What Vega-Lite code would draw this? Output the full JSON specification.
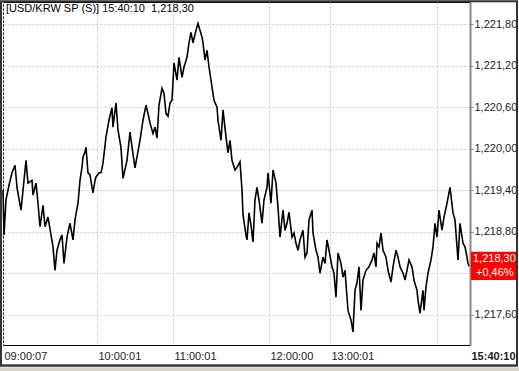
{
  "$schema": "https://vega.github.io/schema/vega-lite/v6.json",
  "width": 467,
  "height": 343,
  "autosize": {"type": "none"},
  "padding": {"left": 3, "top": 2, "right": 49, "bottom": 26},
  "background": "#ffffff",
  "title": {"text": "[USD/KRW SP (S)] 15:40:10\u00a0 1,218,30", "anchor": "start", "frame": "group", "offset": -14, "fontSize": 11, "fontWeight": "normal", "font": "Liberation Sans", "color": "#000000", "dx": 3},
  "config": {
    "view": {"stroke": "#000000", "strokeWidth": 1},
    "axis": {"labelFont": "Liberation Sans", "labelFontSize": 11, "labelColor": "#222222"}
  },
  "datasets": {
    "price": [
      {"i":3,"p":1219.40},{"i":4,"p":1218.75},{"i":6,"p":1219.26},{"i":9,"p":1219.47},{"i":12,"p":1219.65},{"i":15,"p":1219.76},{"i":17,"p":1219.44},{"i":21,"p":1219.11},{"i":26,"p":1219.83},{"i":28,"p":1219.50},{"i":32,"p":1219.54},{"i":33,"p":1219.33},{"i":36,"p":1219.50},{"i":38,"p":1219.21},{"i":40,"p":1218.87},{"i":43,"p":1219.18},{"i":45,"p":1218.87},{"i":48,"p":1219.01},{"i":53,"p":1218.58},{"i":55,"p":1218.24},{"i":57,"p":1218.53},{"i":60,"p":1218.68},{"i":62,"p":1218.75},{"i":64,"p":1218.34},{"i":67,"p":1218.72},{"i":70,"p":1218.92},{"i":73,"p":1218.68},{"i":75,"p":1218.97},{"i":78,"p":1219.21},{"i":80,"p":1219.54},{"i":82,"p":1219.73},{"i":83,"p":1219.88},{"i":85,"p":1219.95},{"i":86,"p":1220.02},{"i":87,"p":1219.83},{"i":88,"p":1219.65},{"i":90,"p":1219.62},{"i":92,"p":1219.44},{"i":93,"p":1219.36},{"i":95,"p":1219.54},{"i":96,"p":1219.59},{"i":99,"p":1219.65},{"i":101,"p":1219.65},{"i":103,"p":1219.79},{"i":106,"p":1220.17},{"i":109,"p":1220.41},{"i":112,"p":1220.59},{"i":113,"p":1220.31},{"i":116,"p":1220.66},{"i":118,"p":1220.27},{"i":121,"p":1220.01},{"i":123,"p":1219.57},{"i":127,"p":1219.83},{"i":130,"p":1220.24},{"i":132,"p":1220.02},{"i":135,"p":1219.72},{"i":140,"p":1220.12},{"i":143,"p":1220.41},{"i":146,"p":1220.63},{"i":149,"p":1220.44},{"i":150,"p":1220.37},{"i":153,"p":1220.22},{"i":155,"p":1220.31},{"i":157,"p":1220.15},{"i":159,"p":1220.63},{"i":162,"p":1220.87},{"i":164,"p":1220.80},{"i":166,"p":1220.51},{"i":168,"p":1220.47},{"i":170,"p":1220.66},{"i":172,"p":1220.70},{"i":174,"p":1221.24},{"i":177,"p":1220.99},{"i":179,"p":1221.32},{"i":182,"p":1221.03},{"i":184,"p":1221.18},{"i":187,"p":1221.32},{"i":189,"p":1221.53},{"i":191,"p":1221.68},{"i":193,"p":1221.53},{"i":196,"p":1221.71},{"i":198,"p":1221.81},{"i":200,"p":1221.71},{"i":202,"p":1221.61},{"i":203,"p":1221.53},{"i":205,"p":1221.28},{"i":207,"p":1221.42},{"i":209,"p":1221.18},{"i":212,"p":1220.89},{"i":214,"p":1220.70},{"i":217,"p":1220.60},{"i":218,"p":1220.41},{"i":221,"p":1220.12},{"i":223,"p":1220.56},{"i":226,"p":1220.17},{"i":228,"p":1219.94},{"i":230,"p":1220.12},{"i":232,"p":1219.83},{"i":235,"p":1219.69},{"i":237,"p":1219.73},{"i":240,"p":1219.81},{"i":242,"p":1219.40},{"i":243,"p":1219.04},{"i":246,"p":1218.75},{"i":247,"p":1218.68},{"i":249,"p":1219.07},{"i":251,"p":1218.89},{"i":253,"p":1218.65},{"i":255,"p":1219.26},{"i":257,"p":1219.44},{"i":259,"p":1219.26},{"i":262,"p":1218.92},{"i":264,"p":1219.26},{"i":267,"p":1219.44},{"i":268,"p":1219.65},{"i":271,"p":1219.21},{"i":273,"p":1219.69},{"i":276,"p":1219.50},{"i":278,"p":1219.15},{"i":280,"p":1218.72},{"i":283,"p":1219.11},{"i":285,"p":1218.82},{"i":287,"p":1218.92},{"i":289,"p":1219.08},{"i":292,"p":1218.72},{"i":294,"p":1218.78},{"i":296,"p":1218.63},{"i":298,"p":1218.53},{"i":300,"p":1218.68},{"i":303,"p":1218.82},{"i":305,"p":1218.43},{"i":307,"p":1218.49},{"i":309,"p":1218.97},{"i":312,"p":1219.11},{"i":313,"p":1218.78},{"i":316,"p":1218.53},{"i":318,"p":1218.43},{"i":320,"p":1218.20},{"i":323,"p":1218.43},{"i":325,"p":1218.34},{"i":327,"p":1218.68},{"i":329,"p":1218.53},{"i":332,"p":1218.29},{"i":334,"p":1218.20},{"i":336,"p":1217.85},{"i":338,"p":1218.49},{"i":341,"p":1218.34},{"i":343,"p":1218.14},{"i":345,"p":1218.24},{"i":347,"p":1217.85},{"i":348,"p":1217.66},{"i":351,"p":1217.52},{"i":353,"p":1217.35},{"i":355,"p":1217.95},{"i":357,"p":1218.06},{"i":359,"p":1218.29},{"i":361,"p":1217.66},{"i":363,"p":1218.10},{"i":366,"p":1218.24},{"i":369,"p":1218.29},{"i":372,"p":1218.39},{"i":374,"p":1218.49},{"i":376,"p":1218.29},{"i":377,"p":1218.63},{"i":379,"p":1218.58},{"i":381,"p":1218.78},{"i":383,"p":1218.53},{"i":386,"p":1218.43},{"i":388,"p":1218.24},{"i":391,"p":1218.07},{"i":393,"p":1218.29},{"i":396,"p":1218.53},{"i":398,"p":1218.43},{"i":400,"p":1218.29},{"i":403,"p":1218.20},{"i":405,"p":1218.10},{"i":407,"p":1218.24},{"i":409,"p":1218.39},{"i":412,"p":1218.29},{"i":414,"p":1218.10},{"i":417,"p":1217.95},{"i":418,"p":1217.81},{"i":420,"p":1217.62},{"i":423,"p":1217.95},{"i":424,"p":1217.66},{"i":426,"p":1218.00},{"i":428,"p":1218.20},{"i":431,"p":1218.39},{"i":433,"p":1218.58},{"i":435,"p":1218.92},{"i":437,"p":1218.72},{"i":439,"p":1219.11},{"i":442,"p":1218.82},{"i":444,"p":1219.01},{"i":447,"p":1219.21},{"i":450,"p":1219.44},{"i":453,"p":1219.07},{"i":455,"p":1218.97},{"i":457,"p":1218.58},{"i":458,"p":1218.39},{"i":460,"p":1218.92},{"i":463,"p":1218.63},{"i":465,"p":1218.58},{"i":467,"p":1218.43},{"i":468,"p":1218.34},{"i":469,"p":1218.30}
    ],
    "last": [{"row": 1, "label": "1,218,30"}, {"row": 2, "label": "+0,46%"}]
  },
  "layer": [
    {
      "data": {"name": "price"},
      "mark": {"type": "line", "color": "#000000", "strokeWidth": 1.6, "interpolate": "linear"},
      "encoding": {
        "x": {
          "field": "i", "type": "quantitative",
          "scale": {"domain": [3, 470], "nice": false, "zero": false},
          "axis": {
            "title": null,
            "values": [3, 97, 173, 269, 330, 437, 470],
            "labelExpr": "datum.value==3?'09:00:07':datum.value==97?'10:00:01':datum.value==173?'11:00:01':datum.value==269?'12:00:00':datum.value==330?'13:00:01':datum.value==470?'15:40:10':''",
            "labelAlign": "left",
            "labelFlush": false,
            "labelOverlap": false,
            "labelOffset": 1,
            "labelPadding": 5,
            "labelFontWeight": {"condition": {"test": "datum.value==470", "value": "bold"}, "value": "normal"},
            "tickSize": 0,
            "domain": false,
            "grid": true,
            "gridDash": [2, 2],
            "gridColor": "#c8c8c8"
          }
        },
        "y": {
          "field": "p", "type": "quantitative",
          "scale": {"domain": [1217.16, 1222.12], "nice": false, "zero": false},
          "axis": {
            "title": null,
            "orient": "right",
            "values": [1217.6, 1218.2, 1218.8, 1219.4, 1220.0, 1220.6, 1221.2, 1221.8],
            "labelExpr": "abs(datum.value - 1218.2) < 0.01 ? '' : replace(format(datum.value, ',.2f'), '.', ',')",
            "labelPadding": 1,
            "labelFlush": false,
            "labelOverlap": false,
            "grid": true,
            "gridDash": [2, 2],
            "gridColor": "#c8c8c8",
            "domainColor": "#888888",
            "domainWidth": 2,
            "tickColor": "#888888",
            "tickSize": 3
          }
        }
      }
    },
    {
      "data": {"values": [{}]},
      "mark": {"type": "rect", "color": "#ff0000"},
      "encoding": {
        "x": {"datum": 471, "type": "quantitative"},
        "x2": {"datum": 517},
        "y": {"datum": 1218.51, "type": "quantitative"},
        "y2": {"datum": 1218.10}
      }
    },
    {
      "data": {"name": "last"},
      "transform": [{"filter": "datum.row == 1"}],
      "mark": {"type": "text", "color": "#ffffff", "font": "Liberation Sans", "fontSize": 11, "align": "left", "baseline": "middle"},
      "encoding": {
        "x": {"datum": 473, "type": "quantitative"},
        "y": {"datum": 1218.40, "type": "quantitative"},
        "text": {"field": "label"}
      }
    },
    {
      "data": {"name": "last"},
      "transform": [{"filter": "datum.row == 2"}],
      "mark": {"type": "text", "color": "#ffffff", "font": "Liberation Sans", "fontSize": 11, "align": "left", "baseline": "middle"},
      "encoding": {
        "x": {"datum": 476, "type": "quantitative"},
        "y": {"datum": 1218.20, "type": "quantitative"},
        "text": {"field": "label"}
      }
    },
    {
      "data": {"values": [{}]},
      "mark": {"type": "rule", "color": "#000000", "strokeWidth": 1},
      "encoding": {
        "x": {"datum": 1, "type": "quantitative"},
        "x2": {"datum": 517},
        "y": {"datum": 1216.87, "type": "quantitative"}
      }
    },
    {
      "data": {"values": [{}]},
      "mark": {"type": "rect", "fill": "#d6d3ce"},
      "encoding": {
        "x": {"datum": 0, "type": "quantitative"},
        "x2": {"datum": 519},
        "y": {"datum": 1216.84, "type": "quantitative"},
        "y2": {"datum": 1216.70}
      }
    },
    {
      "data": {"values": [{}]},
      "mark": {"type": "rect", "fill": "transparent", "stroke": "#333333", "strokeWidth": 2},
      "encoding": {
        "x": {"datum": 1, "type": "quantitative"},
        "x2": {"datum": 517},
        "y": {"datum": 1222.13, "type": "quantitative"},
        "y2": {"datum": 1216.86}
      }
    }
  ]
}
